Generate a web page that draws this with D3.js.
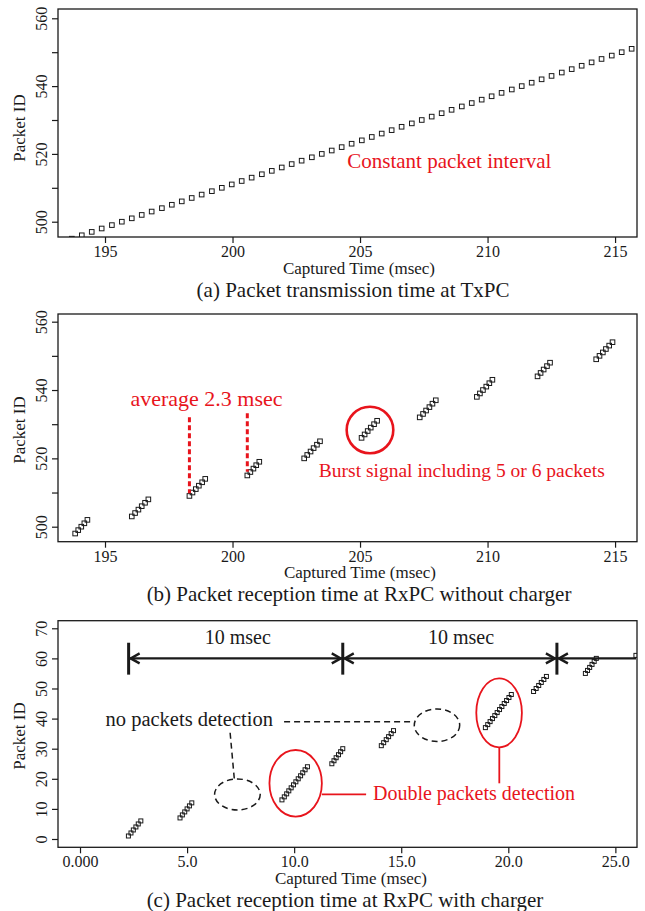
<!DOCTYPE html>
<html>
<head>
<meta charset="utf-8">
<script src="https://cdn.jsdelivr.net/npm/d3@7"></script>
<style>
  body { margin: 0; background: #fff; }
  svg { display: block; font-family: "Liberation Serif", "Times New Roman", serif; }
</style>
</head>
<body>
<div id="chart"></div>
<script>
// ---------- data ----------

// (a) transmission at TxPC
const txTime = [193.70, 194.09, 194.48, 194.87, 195.27, 195.66, 196.05, 196.44, 196.83, 197.23,
  197.62, 198.01, 198.40, 198.79, 199.19, 199.58, 199.97, 200.36, 200.75, 201.15,
  201.54, 201.93, 202.32, 202.71, 203.11, 203.50, 203.89, 204.28, 204.67, 205.07,
  205.46, 205.85, 206.24, 206.63, 207.03, 207.42, 207.81, 208.20, 208.59, 208.99,
  209.38, 209.77, 210.16, 210.55, 210.95, 211.34, 211.73, 212.12, 212.51, 212.91,
  213.30, 213.69, 214.08, 214.47, 214.87, 215.26, 215.65];
const txId = [495, 496, 497, 498, 499, 500, 501, 502, 503, 504,
  505, 506, 507, 508, 509, 510, 511, 512, 513, 514,
  515, 516, 517, 518, 519, 520, 521, 522, 523, 524,
  525, 526, 527, 528, 529, 530, 531, 532, 533, 534,
  535, 536, 537, 538, 539, 540, 541, 542, 543, 544,
  545, 546, 547, 548, 549, 550, 551];

// (b) reception at RxPC without charger (bursts of 5 or 6)
const rxTime = [193.83, 193.95, 194.07, 194.19, 194.31,
  196.05, 196.18, 196.31, 196.44, 196.57, 196.70,
  198.31, 198.43, 198.56, 198.68, 198.81, 198.93,
  200.58, 200.70, 200.82, 200.93, 201.05,
  202.81, 202.93, 203.06, 203.18, 203.31, 203.43,
  205.06, 205.18, 205.30, 205.42, 205.55, 205.67,
  207.34, 207.47, 207.59, 207.72, 207.84, 207.97,
  209.58, 209.70, 209.82, 209.95, 210.07, 210.19,
  211.96, 212.08, 212.20, 212.33, 212.45,
  214.26, 214.39, 214.52, 214.64, 214.77, 214.90];
const rxId = [498, 499, 500, 501, 502,
  503, 504, 505, 506, 507, 508,
  509, 510, 511, 512, 513, 514,
  515, 516, 517, 518, 519,
  520, 521, 522, 523, 524, 525,
  526, 527, 528, 529, 530, 531,
  532, 533, 534, 535, 536, 537,
  538, 539, 540, 541, 542, 543,
  544, 545, 546, 547, 548,
  549, 550, 551, 552, 553, 554];

// (c) reception at RxPC with charger
const chTime = [2.26, 2.38, 2.49, 2.61, 2.72, 2.84,
  4.67, 4.78, 4.89, 5.00, 5.11, 5.22,
  9.43, 9.54, 9.65, 9.75, 9.86, 9.97, 10.08, 10.19, 10.30, 10.40, 10.51, 10.62,
  11.76, 11.86, 11.96, 12.07, 12.17, 12.27,
  14.07, 14.18, 14.30, 14.41, 14.53, 14.64,
  18.93, 19.04, 19.15, 19.26, 19.37, 19.48, 19.59, 19.70, 19.81, 19.92, 20.03, 20.14,
  21.18, 21.30, 21.42, 21.54, 21.66, 21.78,
  23.60, 23.70, 23.80, 23.91, 24.01, 24.11,
  25.96];
const chId = [1, 2, 3, 4, 5, 6,
  7, 8, 9, 10, 11, 12,
  13, 14, 15, 16, 17, 18, 19, 20, 21, 22, 23, 24,
  25, 26, 27, 28, 29, 30,
  31, 32, 33, 34, 35, 36,
  37, 38, 39, 40, 41, 42, 43, 44, 45, 46, 47, 48,
  49, 50, 51, 52, 53, 54,
  55, 56, 57, 58, 59, 60,
  61];

// ticks
const abXTicks = [195, 200, 205, 210, 215];
const abYTicks = [500, 510, 520, 530, 540, 550, 560];
const abYLabels = [500, 520, 540, 560];
const cXTicks = [0, 5, 10, 15, 20, 25];
const cXLabels = ['0.000', '5.0', '10.0', '15.0', '20.0', '25.0'];
const cYTicks = [0, 10, 20, 30, 40, 50, 60, 70];

// annotations (data coordinates)
const avgLineX = [198.31, 200.58];
const avgLineTop = [532.0, 533.2];
const avgLineBottom = [509.8, 516.1];
const periodBars = [2.27, 12.27, 22.27];
const periodLabelX = [7.37, 17.79];
const missEllipses = [
  { cx: 7.35, cy: 14.8, rx: 1.065, ry: 5.15 },
  { cx: 16.67, cy: 37.8, rx: 1.06, ry: 5.4 }
];
const doubleEllipses = [
  { cx: 10.07, cy: 18.5, rx: 1.224, ry: 11.06 },
  { cx: 19.57, cy: 41.9, rx: 1.065, ry: 11.46 }
];

const RED = '#e8141c';
const INK = '#1a1a1a';

const svg = d3.select('#chart').append('svg')
  .attr('width', 645)
  .attr('height', 911);

svg.append('rect').attr('width', 645).attr('height', 911).attr('fill', '#fff');

function drawPanel(cfg) {
  const f = cfg.frame;
  const x = d3.scaleLinear().domain(cfg.xDomain).range([f.left, f.right]);
  const y = d3.scaleLinear().domain(cfg.yDomain).range([f.bottom, f.top]);
  const g = svg.append('g');

  // clip for the markers
  g.append('clipPath').attr('id', cfg.id + '-clip')
    .append('rect')
    .attr('x', f.left).attr('y', f.top)
    .attr('width', f.right - f.left).attr('height', f.bottom - f.top);

  // x axis
  const xAxis = d3.axisBottom(x)
    .tickValues(cfg.xTicks)
    .tickSize(6)
    .tickFormat((d, i) => cfg.xLabels ? cfg.xLabels[i] : d);
  const xg = g.append('g')
    .attr('transform', `translate(0,${f.bottom})`)
    .call(xAxis);
  xg.select('.domain').remove();
  xg.selectAll('line').attr('stroke', INK).attr('stroke-width', 1.2);
  xg.selectAll('text')
    .attr('y', 20).attr('dy', 0)
    .attr('fill', INK)
    .style('font-size', '16px')
    .style('font-family', '"Liberation Serif", serif');

  // y axis, labels turned like R's default
  const yAxis = d3.axisLeft(y)
    .tickValues(cfg.yTicks)
    .tickSize(6)
    .tickFormat(d => cfg.yLabels.includes(d) ? d : '');
  const yg = g.append('g')
    .attr('transform', `translate(${f.left},0)`)
    .call(yAxis);
  yg.select('.domain').remove();
  yg.selectAll('line').attr('stroke', INK).attr('stroke-width', 1.2);
  yg.selectAll('text')
    .attr('transform', 'rotate(-90)')
    .attr('x', 0).attr('y', -11).attr('dy', 0)
    .attr('text-anchor', 'middle')
    .attr('fill', INK)
    .style('font-size', '16px')
    .style('font-family', '"Liberation Serif", serif');

  // points
  const s = cfg.marker;
  g.append('g')
    .attr('clip-path', `url(#${cfg.id}-clip)`)
    .selectAll('rect')
    .data(cfg.times.map((t, i) => ({ t, id: cfg.ids[i] })))
    .join('rect')
    .attr('x', d => x(d.t) - s / 2)
    .attr('y', d => y(d.id) - s / 2)
    .attr('width', s)
    .attr('height', s)
    .attr('fill', 'none')
    .attr('stroke', INK)
    .attr('stroke-width', 1);

  // frame
  g.append('rect')
    .attr('x', f.left).attr('y', f.top)
    .attr('width', f.right - f.left).attr('height', f.bottom - f.top)
    .attr('fill', 'none')
    .attr('stroke', INK)
    .attr('stroke-width', 1.3);

  // titles
  g.append('text')
    .attr('x', cfg.xTitle[0]).attr('y', cfg.xTitle[1])
    .attr('text-anchor', 'middle')
    .attr('fill', INK)
    .style('font-size', '17px')
    .text('Captured Time (msec)');

  g.append('text')
    .attr('transform', `translate(25,${cfg.yTitleY}) rotate(-90)`)
    .attr('text-anchor', 'middle')
    .attr('fill', INK)
    .style('font-size', '17px')
    .text('Packet ID');

  g.append('text')
    .attr('x', cfg.caption[0]).attr('y', cfg.caption[1])
    .attr('text-anchor', 'middle')
    .attr('fill', INK)
    .style('font-size', '21px')
    .text(cfg.captionText);

  return { x, y, g };
}

// ---------- (a) ----------
const pa = drawPanel({
  id: 'pa',
  frame: { left: 58, right: 637, top: 9, bottom: 237 },
  xDomain: [193.157, 215.86],
  yDomain: [495.49, 562.74],
  xTicks: abXTicks, yTicks: abYTicks, yLabels: abYLabels,
  times: txTime, ids: txId, marker: 4.6,
  xTitle: [359, 274], yTitleY: 128,
  caption: [353, 296.5], captionText: '(a) Packet transmission time at TxPC'
});

pa.g.append('text')
  .attr('x', pa.x(208.50)).attr('y', pa.y(515.75))
  .attr('text-anchor', 'middle')
  .attr('fill', RED)
  .style('font-size', '21px')
  .text('Constant packet interval');

// ---------- (b) ----------
const pb = drawPanel({
  id: 'pb',
  frame: { left: 58, right: 637, top: 314, bottom: 541.7 },
  xDomain: [193.157, 215.86],
  yDomain: [495.61, 562.25],
  xTicks: abXTicks, yTicks: abYTicks, yLabels: abYLabels,
  times: rxTime, ids: rxId, marker: 4.6,
  xTitle: [360, 578], yTitleY: 430,
  caption: [359, 601], captionText: '(b) Packet reception time at RxPC without charger'
});

pb.g.selectAll('.avg-line')
  .data(avgLineX)
  .join('line')
  .attr('class', 'avg-line')
  .attr('x1', d => pb.x(d)).attr('x2', d => pb.x(d))
  .attr('y1', (d, i) => pb.y(avgLineTop[i]))
  .attr('y2', (d, i) => pb.y(avgLineBottom[i]))
  .attr('stroke', RED)
  .attr('stroke-width', 3)
  .attr('stroke-dasharray', '5,3');

pb.g.append('text')
  .attr('x', pb.x(198.98)).attr('y', pb.y(535.3))
  .attr('text-anchor', 'middle')
  .attr('fill', RED)
  .style('font-size', '22px')
  .text('average 2.3 msec');

pb.g.append('circle')
  .attr('cx', pb.x(205.39)).attr('cy', pb.y(528.3))
  .attr('r', pb.x(205.39 + 0.914) - pb.x(205.39))
  .attr('fill', 'none')
  .attr('stroke', RED)
  .attr('stroke-width', 2.6);

pb.g.append('text')
  .attr('x', pb.x(208.99)).attr('y', pb.y(514.6))
  .attr('text-anchor', 'middle')
  .attr('fill', RED)
  .style('font-size', '19.5px')
  .text('Burst signal including 5 or 6 packets');

// ---------- (c) ----------
const pc = drawPanel({
  id: 'pc',
  frame: { left: 58, right: 637, top: 620.7, bottom: 847.3 },
  xDomain: [-1.028, 26.01],
  yDomain: [-2.76, 72.52],
  xTicks: cXTicks, xLabels: cXLabels, yTicks: cYTicks, yLabels: cYTicks,
  times: chTime, ids: chId, marker: 4,
  xTitle: [351, 884], yTitleY: 736,
  caption: [345, 906.5], captionText: '(c) Packet reception time at RxPC with charger'
});

// 10 msec period marks
const arrowY = pc.y(60);
pc.g.append('line')
  .attr('x1', pc.x(periodBars[0])).attr('x2', 636)
  .attr('y1', arrowY).attr('y2', arrowY)
  .attr('stroke', INK).attr('stroke-width', 2.4);

pc.g.selectAll('.bar')
  .data(periodBars)
  .join('line')
  .attr('class', 'bar')
  .attr('x1', d => pc.x(d)).attr('x2', d => pc.x(d))
  .attr('y1', pc.y(65.2)).attr('y2', pc.y(54.6))
  .attr('stroke', INK).attr('stroke-width', 3);

// heads: left-pointing after each bar, right-pointing before bars 2 and 3
const heads = [];
periodBars.forEach((b, i) => {
  heads.push({ x: b, dir: -1 });
  if (i > 0) heads.push({ x: b, dir: 1 });
});
pc.g.selectAll('.head')
  .data(heads)
  .join('path')
  .attr('class', 'head')
  .attr('d', d => {
    const px = pc.x(d.x) - d.dir * 2;
    return `M${px - d.dir * 9},${arrowY - 5}L${px},${arrowY}L${px - d.dir * 9},${arrowY + 5}`;
  })
  .attr('fill', 'none')
  .attr('stroke', INK)
  .attr('stroke-width', 2.4);

pc.g.selectAll('.period-label')
  .data(periodLabelX)
  .join('text')
  .attr('class', 'period-label')
  .attr('x', d => pc.x(d)).attr('y', pc.y(64.8))
  .attr('text-anchor', 'middle')
  .attr('fill', INK)
  .style('font-size', '20px')
  .text('10 msec');

// no packets detection
pc.g.append('text')
  .attr('x', pc.x(5.10)).attr('y', pc.y(37.54))
  .attr('text-anchor', 'middle')
  .attr('fill', INK)
  .style('font-size', '20.5px')
  .text('no packets detection');

pc.g.append('line')
  .attr('x1', pc.x(9.53)).attr('x2', pc.x(15.58))
  .attr('y1', pc.y(38.97)).attr('y2', pc.y(38.97))
  .attr('stroke', INK).attr('stroke-width', 1.5)
  .attr('stroke-dasharray', '6,4');

pc.g.append('line')
  .attr('x1', pc.x(7.01)).attr('x2', pc.x(7.21))
  .attr('y1', pc.y(35.3)).attr('y2', pc.y(19.6))
  .attr('stroke', INK).attr('stroke-width', 1.5)
  .attr('stroke-dasharray', '6,4');

pc.g.selectAll('.miss')
  .data(missEllipses)
  .join('ellipse')
  .attr('class', 'miss')
  .attr('cx', d => pc.x(d.cx)).attr('cy', d => pc.y(d.cy))
  .attr('rx', d => pc.x(d.cx + d.rx) - pc.x(d.cx))
  .attr('ry', d => pc.y(d.cy) - pc.y(d.cy + d.ry))
  .attr('fill', 'none')
  .attr('stroke', INK).attr('stroke-width', 1.5)
  .attr('stroke-dasharray', '6,4');

// double packets detection
pc.g.selectAll('.double')
  .data(doubleEllipses)
  .join('ellipse')
  .attr('class', 'double')
  .attr('cx', d => pc.x(d.cx)).attr('cy', d => pc.y(d.cy))
  .attr('rx', d => pc.x(d.cx + d.rx) - pc.x(d.cx))
  .attr('ry', d => pc.y(d.cy) - pc.y(d.cy + d.ry))
  .attr('fill', 'none')
  .attr('stroke', RED).attr('stroke-width', 1.8);

pc.g.append('line')
  .attr('x1', pc.x(11.29)).attr('x2', pc.x(13.36))
  .attr('y1', pc.y(14.85)).attr('y2', pc.y(14.85))
  .attr('stroke', RED).attr('stroke-width', 1.8);

pc.g.append('line')
  .attr('x1', pc.x(19.58)).attr('x2', pc.x(19.58))
  .attr('y1', pc.y(30.47)).attr('y2', pc.y(18.5))
  .attr('stroke', RED).attr('stroke-width', 1.8);

pc.g.append('text')
  .attr('x', pc.x(13.68)).attr('y', pc.y(12.96))
  .attr('fill', RED)
  .style('font-size', '20px')
  .text('Double packets detection');
</script>
</body>
</html>
